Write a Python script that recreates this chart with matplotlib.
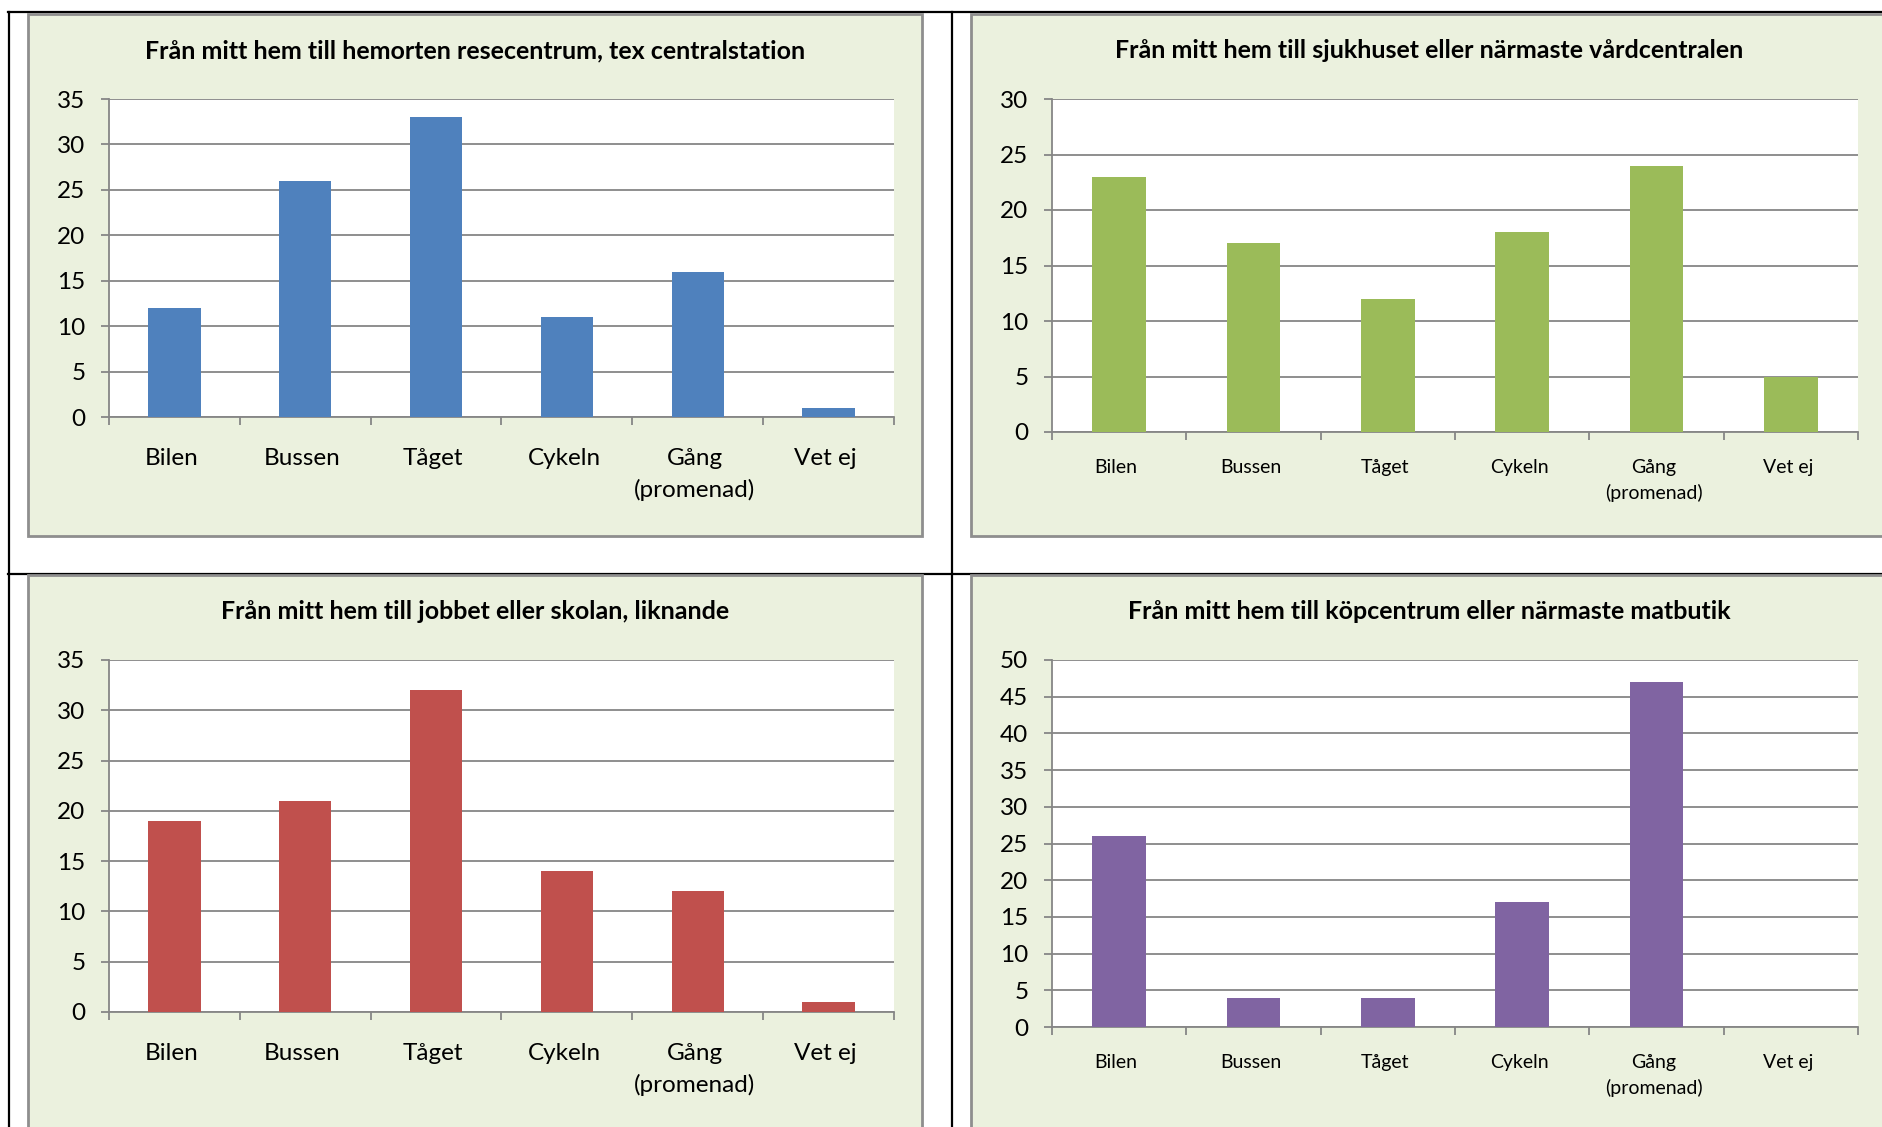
import numpy as np
import matplotlib.pyplot as plt
from matplotlib.patches import Rectangle
from matplotlib.lines import Line2D

plt.rcParams['font.family'] = ['Lato', 'DejaVu Sans']

####################################################################################################
# Data

categories = ['Bilen', 'Bussen', 'Tåget', 'Cykeln', 'Gång\n(promenad)', 'Vet ej']

titles = ['Från mitt hem till hemorten resecentrum, tex centralstation',
          'Från mitt hem till sjukhuset eller närmaste vårdcentralen',
          'Från mitt hem till jobbet eller skolan, liknande',
          'Från mitt hem till köpcentrum eller närmaste matbutik']

resecentrum = [12, 26, 33, 11, 16, 1]
sjukhus = [23, 17, 12, 18, 24, 5]
jobb = [19, 21, 32, 14, 12, 1]
matbutik = [26, 4, 4, 17, 47, 0]

ymax = [35, 30, 35, 50]
colors = ['#4F81BD', '#9BBB59', '#C0504D', '#8064A2']

####################################################################################################
# Layout (pixels, measured from top-left)

W, H = 1883, 1127
fig = plt.figure(figsize=(W / 100, H / 100), dpi=100)
fig.patch.set_facecolor('white')

def frac_rect(x0, y0, x1, y1):
    return [x0 / W, 1 - y1 / H, (x1 - x0) / W, (y1 - y0) / H]

def fig_line(x0, y0, x1, y1, **kw):
    fig.add_artist(Line2D([x0 / W, x1 / W], [1 - y0 / H, 1 - y1 / H],
                          transform=fig.transFigure, **kw))

# table lines around the charts
for seg in [(8, 12, 1883, 12), (9, 12, 9, 1127), (952, 12, 952, 1127), (8, 574, 1883, 574)]:
    fig_line(*seg, color='black', lw=1.6, zorder=-2)

# (chart box, plot box, title y, label size, label pad)
panels = [
    ((28, 14, 922, 536), (109, 99, 894, 417), 51, 17.5, 22),
    ((971, 14, 1888, 536), (1052, 99, 1858, 432), 51, 14, 19.5),
    ((28, 575, 922, 1150), (109, 660, 894, 1012), 612, 17.5, 22),
    ((971, 575, 1888, 1150), (1052, 660, 1858, 1027), 612, 14, 19.5),
]
data = [resecentrum, sjukhus, jobb, matbutik]

x = np.arange(len(categories))
for i, (box, plot, ty, lsize, lpad) in enumerate(panels):
    bx0, by0, bx1, by1 = box
    fig.add_artist(Rectangle((bx0 / W, 1 - by1 / H), (bx1 - bx0) / W, (by1 - by0) / H,
                             transform=fig.transFigure, facecolor='#EBF1DE',
                             edgecolor='#8E8E8E', lw=2, zorder=-1))
    fig.text((bx0 + bx1) / 2 / W, 1 - ty / H, titles[i], ha='center', va='center',
             fontsize=18, fontweight='bold', color='black')

    ax = fig.add_axes(frac_rect(*plot))
    ax.set_zorder(1)
    ax.set_facecolor('white')
    ax.bar(x, data[i], width=0.4, color=colors[i], zorder=3)
    ax.set_xlim(-0.5, len(categories) - 0.5)
    ax.set_ylim(0, ymax[i])
    ax.set_yticks(np.arange(0, ymax[i] + 1, 5))
    ax.yaxis.grid(True, color='#868686', lw=1.3, zorder=0)
    ax.set_axisbelow(True)

    ax.set_xticks(np.arange(-0.5, len(categories)), minor=False)
    ax.set_xticklabels([])
    # category labels sit a touch left of the bar centres, as in the original
    ax.set_xticks(x - 0.022, minor=True)
    ax.set_xticklabels(categories, minor=True, fontsize=lsize, linespacing=1.55)
    ax.tick_params(axis='x', which='major', direction='out', length=6, width=1.3, color='#868686')
    ax.tick_params(axis='x', which='minor', length=0, pad=lpad)
    ax.tick_params(axis='y', direction='out', length=6, width=1.3, color='#868686',
                   labelsize=17.5, pad=11)

    for s in ['top', 'right']:
        ax.spines[s].set_visible(False)
    for s in ['left', 'bottom']:
        ax.spines[s].set_color('#868686')
        ax.spines[s].set_linewidth(1.3)

plt.savefig('out.png', dpi=100)
